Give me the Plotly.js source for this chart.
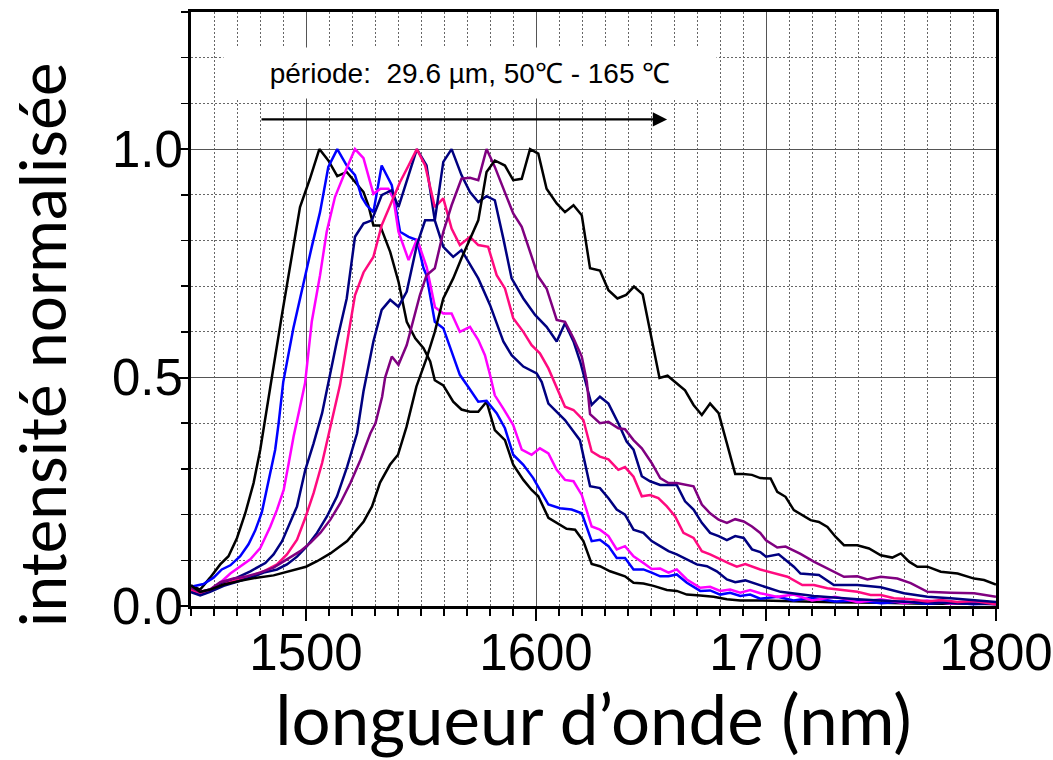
<!DOCTYPE html>
<html>
<head>
<meta charset="utf-8">
<script src="https://cdn.plot.ly/plotly-3.0.1.min.js"></script>
<style>html,body{margin:0;padding:0;background:#fff;}#chart{width:1053px;height:760px;}</style>
</head>
<body>
<div id="chart"></div>
<script>
// Curve 1 : black (peak ~1506 nm)
const xBlackA = [1450,1454,1458.3,1462.7,1466.3,1470,1473.6,1477.2,1480.1,1482.3,1484.5,1489.4,1493.8,1497.4,1501.7,1505.8,1509.7,1513.6,1517.7,1521.3,1525,1527.1,1529.3,1532.2,1536.6,1540.2,1543.8,1547.5,1551.1,1554,1556,1559.7,1564,1567.6,1571.3,1574.9,1578.5,1582.1,1586.5,1590.1,1594.5,1598.1,1601,1605.4,1609,1613.3,1617,1620.6,1624.2,1627.8,1632.2,1635.8,1638.7,1642.4,1646.7,1651.1,1656.9,1661.2,1665.6,1671.4,1677.2,1683,1688.8,1697.5,1710,1730,1750,1770,1800];
const yBlackA = [0.045,0.036,0.062,0.091,0.109,0.149,0.203,0.269,0.342,0.407,0.48,0.633,0.761,0.873,0.935,1.0,0.975,0.941,0.95,0.928,0.906,0.877,0.833,0.833,0.775,0.71,0.622,0.586,0.564,0.535,0.494,0.483,0.447,0.43,0.425,0.425,0.447,0.385,0.363,0.309,0.276,0.254,0.24,0.193,0.182,0.169,0.167,0.142,0.092,0.087,0.076,0.069,0.065,0.051,0.049,0.044,0.035,0.033,0.025,0.023,0.02,0.015,0.012,0.012,0.01,0.008,0.007,0.005,0.005];

// Curve 2 : blue (peak ~1513 nm)
const xBlue = [1450,1455.4,1459.8,1463.4,1467.1,1471.4,1475,1477.9,1480.8,1483.7,1486.6,1488.1,1490.1,1494.5,1498.8,1502.5,1506.1,1509.7,1513.6,1517.7,1521.3,1524.2,1526.4,1529.3,1532.9,1537.3,1540.9,1544.6,1548.2,1551.1,1552.4,1556,1559.7,1563.3,1566.9,1570.5,1574.9,1578.5,1582.9,1586.5,1590.1,1594.5,1598.8,1601.7,1605.4,1610.4,1615.5,1619.9,1624.2,1627.8,1631.5,1635.1,1638.7,1642.4,1646.7,1650.3,1654,1657.6,1661.2,1665.6,1671.4,1675.7,1680.1,1684.4,1688.8,1693.1,1697.5,1705,1712,1720,1730,1740,1750,1760,1770,1780,1790,1800];
const yBlue = [0.042,0.048,0.062,0.08,0.089,0.109,0.135,0.165,0.205,0.27,0.342,0.4,0.49,0.608,0.706,0.786,0.862,0.961,1.0,0.964,0.943,0.895,0.877,0.862,0.964,0.921,0.819,0.808,0.801,0.739,0.724,0.622,0.608,0.557,0.506,0.48,0.447,0.449,0.422,0.389,0.331,0.309,0.28,0.254,0.222,0.214,0.211,0.203,0.142,0.145,0.131,0.105,0.105,0.08,0.08,0.073,0.065,0.065,0.069,0.051,0.033,0.034,0.025,0.029,0.022,0.025,0.016,0.02,0.012,0.018,0.01,0.012,0.006,0.01,0.005,0.008,0.004,0.006];

// Curve 3 : magenta (peak ~1521 nm)
const xMagenta = [1450,1454,1458.3,1462.7,1467.1,1471.4,1475.8,1480.1,1484.5,1487.4,1490.3,1492.5,1494.6,1496.8,1499.6,1502.5,1506.1,1509,1512.6,1517,1521.3,1525,1527.1,1529.3,1532.4,1535.8,1538,1540.2,1544.6,1548.3,1552.5,1556.1,1559.7,1563.3,1566.9,1571.3,1574.9,1577.8,1580,1582.1,1585.8,1590.1,1593.8,1598.1,1601.7,1605.4,1609,1612.6,1616.3,1619.9,1624.2,1627.8,1631.5,1635.1,1638.7,1642.4,1646.7,1650.3,1654,1657.6,1661.2,1665.6,1671.4,1675.7,1680.1,1684.4,1688.8,1693.1,1697.5,1705,1712,1720,1730,1740,1750,1760,1770,1780,1790,1800];
const yMagenta = [0.036,0.031,0.036,0.051,0.071,0.087,0.102,0.127,0.174,0.211,0.254,0.313,0.371,0.422,0.488,0.622,0.724,0.819,0.895,0.95,1.0,0.98,0.943,0.902,0.913,0.913,0.892,0.819,0.757,0.803,0.741,0.654,0.64,0.64,0.6,0.611,0.582,0.549,0.506,0.461,0.432,0.396,0.342,0.331,0.345,0.334,0.298,0.276,0.273,0.243,0.174,0.167,0.153,0.124,0.131,0.109,0.094,0.081,0.082,0.073,0.08,0.058,0.04,0.042,0.033,0.036,0.029,0.035,0.028,0.02,0.025,0.012,0.02,0.008,0.015,0.006,0.012,0.005,0.008,0.004];

// Curve 4 : navy (peak ~1548 nm)
const xNavyB = [1450,1454,1458.3,1464.2,1470,1475.8,1482.3,1485.9,1489.6,1493.2,1496.1,1499.7,1503.3,1507,1509.1,1513.4,1517.7,1521.3,1525,1528.6,1532.9,1537.3,1540.2,1543.8,1548.2,1552.4,1556,1559.7,1564,1567.6,1571.3,1574.9,1580,1585.8,1589.4,1594.5,1600.3,1602.5,1605.4,1609,1612.6,1616.3,1619.1,1623.5,1627.8,1631.5,1635.1,1638.7,1642.4,1646.7,1650.3,1654,1657.6,1661.2,1665.6,1669.9,1674.3,1678.6,1683,1686.6,1691,1697.5,1706.3,1720.8,1739.7,1760,1780.3,1800];
const yNavyB = [0.035,0.025,0.033,0.051,0.062,0.076,0.094,0.113,0.142,0.182,0.218,0.298,0.356,0.422,0.475,0.579,0.673,0.808,0.837,0.844,0.899,0.91,0.873,0.928,1.0,0.964,0.844,0.786,0.764,0.779,0.746,0.717,0.659,0.579,0.549,0.524,0.509,0.49,0.443,0.425,0.407,0.382,0.363,0.262,0.258,0.236,0.211,0.2,0.167,0.16,0.142,0.131,0.12,0.113,0.102,0.091,0.087,0.076,0.058,0.052,0.056,0.045,0.031,0.022,0.015,0.0095,0.006,0.004];

// Curve 5 : deep pink (peak ~1548 nm)
const xPink = [1450,1454,1458.3,1464.2,1470,1475.8,1481.6,1487.4,1491.7,1496.1,1499.7,1503.3,1507,1509.9,1512.8,1514.8,1518.4,1521.3,1525,1529.3,1532.9,1537.3,1540.9,1544.6,1548.2,1551.8,1556,1559.7,1563.3,1566.9,1571.3,1574.9,1579.2,1582.9,1586.5,1590.1,1594.5,1598.1,1601.7,1605.4,1609,1612.6,1616.3,1620.6,1624.2,1627.8,1631.5,1635.8,1638.7,1642.4,1646,1649.6,1653.2,1656.9,1660.5,1664.1,1668.5,1672.1,1675.7,1680.1,1683.7,1687.3,1691,1697.5,1704.9,1709.3,1715.8,1720.8,1726.7,1733.9,1739.7,1745.5,1749.9,1755.6,1762.9,1770.2,1776,1783.3,1790.5,1800];
const yPink = [0.035,0.028,0.033,0.047,0.057,0.065,0.076,0.091,0.113,0.145,0.193,0.247,0.313,0.378,0.443,0.484,0.593,0.68,0.73,0.764,0.833,0.884,0.928,0.964,1.0,0.964,0.873,0.892,0.826,0.79,0.808,0.79,0.786,0.724,0.695,0.63,0.6,0.571,0.553,0.52,0.478,0.436,0.429,0.407,0.338,0.327,0.321,0.298,0.304,0.283,0.24,0.243,0.236,0.218,0.196,0.16,0.149,0.12,0.113,0.102,0.094,0.086,0.092,0.08,0.071,0.064,0.046,0.046,0.039,0.035,0.031,0.024,0.024,0.017,0.015,0.01,0.013,0.009,0.011,0.004];

// Curve 6 : navy (peak ~1564 nm)
const xNavyC = [1450,1454,1458.3,1464.2,1470,1475.8,1481.6,1487.4,1491.7,1496.1,1500.4,1504.8,1509.1,1513.5,1517.9,1522.2,1525,1529.3,1532.9,1536.6,1540.2,1543.8,1548.2,1551.8,1556,1559.7,1563.3,1567.6,1571.3,1574.9,1578.5,1582.1,1585.8,1589.4,1594.5,1599.6,1604.6,1609,1612.6,1616.3,1619.2,1621.4,1624.2,1627.8,1631.5,1635.8,1639.4,1642.4,1646,1649.6,1654,1657.6,1661.2,1664.8,1668.5,1672.1,1675.7,1679.4,1683,1686.6,1690.3,1693.9,1697.5,1700,1705.5,1712.1,1715,1723,1729.5,1739.7,1749.9,1760,1770.2,1780.3,1800];
const yNavyC = [0.03,0.023,0.031,0.044,0.053,0.062,0.073,0.08,0.091,0.108,0.131,0.16,0.196,0.24,0.305,0.378,0.47,0.579,0.648,0.67,0.655,0.688,0.79,0.844,0.844,0.972,1.0,0.943,0.906,0.884,0.897,0.888,0.804,0.717,0.673,0.637,0.611,0.579,0.619,0.579,0.535,0.491,0.44,0.458,0.443,0.4,0.36,0.342,0.284,0.273,0.265,0.265,0.265,0.229,0.211,0.182,0.16,0.153,0.144,0.153,0.149,0.124,0.118,0.108,0.113,0.086,0.071,0.068,0.046,0.046,0.041,0.028,0.02,0.017,0.009];

// Curve 7 : purple (peak ~1579 nm)
const xPurple = [1450,1454,1458.3,1462.7,1468.5,1474.3,1480.1,1485.9,1491.7,1497.5,1501.9,1506.2,1510.6,1514.9,1519.3,1523.7,1528,1530.2,1533.1,1534.4,1537.3,1540.2,1543.8,1548.2,1549.5,1552.4,1556,1559.7,1563.3,1567.6,1571.3,1574.9,1578.5,1582.1,1585.8,1590.1,1593.8,1597.4,1601,1604.6,1609,1612.6,1616.3,1619.9,1622.1,1623.5,1627.8,1631.5,1635.8,1638.7,1642.4,1646,1650.3,1654,1657.6,1661.2,1664.8,1668.5,1672.1,1675.7,1679.4,1683,1686.6,1690.3,1693.9,1697.5,1700,1704.9,1708.5,1715,1720.8,1726.7,1733.9,1739.7,1744.1,1749.9,1757.1,1762.9,1770.2,1780.3,1790.5,1800];
const yPurple = [0.04,0.03,0.036,0.052,0.06,0.065,0.073,0.084,0.102,0.12,0.138,0.16,0.189,0.225,0.269,0.32,0.378,0.4,0.458,0.5,0.546,0.528,0.571,0.651,0.68,0.724,0.739,0.819,0.877,0.935,0.937,0.932,1.0,0.961,0.913,0.859,0.83,0.775,0.721,0.695,0.626,0.622,0.586,0.546,0.491,0.42,0.4,0.403,0.389,0.387,0.363,0.345,0.313,0.28,0.269,0.269,0.265,0.262,0.222,0.203,0.189,0.182,0.19,0.185,0.174,0.16,0.144,0.128,0.13,0.114,0.097,0.082,0.064,0.065,0.058,0.064,0.06,0.05,0.031,0.029,0.028,0.02];

// Curve 8 : black (peak ~1598 nm)
const xBlackD = [1450,1454,1458.3,1464.2,1471.4,1478.6,1485.9,1493.2,1500,1504.8,1510.6,1517.9,1525.1,1528.7,1532.2,1536.5,1540,1543.7,1548,1552.4,1556,1559.7,1564,1567.6,1571.3,1574.9,1578.5,1582.1,1586.5,1590.1,1593.8,1597.4,1601,1604.6,1609,1612.6,1616.3,1619.9,1623.5,1627.8,1631.5,1635.4,1639.2,1642.6,1646.4,1649.6,1653.7,1657.2,1661.2,1664.8,1668.5,1672.1,1675.7,1679.4,1683,1686.6,1690.2,1693.9,1697.5,1702,1704.9,1708.5,1712.1,1715.8,1719.4,1723,1726.7,1730.3,1733.9,1739.7,1744.8,1749.9,1754.9,1758.6,1762.2,1765.8,1770.2,1776,1783.3,1790.5,1794.8,1800];
const yBlackD = [0.045,0.031,0.036,0.047,0.055,0.062,0.067,0.076,0.086,0.098,0.115,0.142,0.185,0.218,0.27,0.309,0.331,0.392,0.48,0.542,0.6,0.673,0.717,0.761,0.804,0.844,0.95,0.975,0.964,0.932,0.935,1.0,0.99,0.913,0.881,0.862,0.877,0.855,0.739,0.734,0.691,0.673,0.681,0.699,0.682,0.6,0.499,0.504,0.487,0.472,0.44,0.418,0.443,0.422,0.356,0.289,0.289,0.287,0.28,0.279,0.25,0.239,0.21,0.199,0.188,0.184,0.173,0.151,0.133,0.133,0.126,0.111,0.106,0.115,0.097,0.086,0.086,0.075,0.071,0.06,0.057,0.047];

const seriesX = [xBlackA, xBlue, xMagenta, xNavyB, xPink, xNavyC, xPurple, xBlackD];
const seriesY = [yBlackA, yBlue, yMagenta, yNavyB, yPink, yNavyC, yPurple, yBlackD];
const seriesNames = ['black 1', 'blue', 'magenta', 'navy 1', 'pink', 'navy 2', 'purple', 'black 2'];
const seriesColors = ['#000000', '#0000ff', '#ff00ff', '#000080', '#ff0a7f', '#000080', '#800080', '#000000'];

const annotText = 'période:  29.6 µm, 50℃ - 165 ℃';
const xTitle = 'longueur d’onde (nm)';
const yTitle = 'intensité normalisée';

const traces = seriesX.map((xs, i) => ({
  type: 'scatter', mode: 'lines', name: seriesNames[i],
  x: xs, y: seriesY[i],
  line: {color: seriesColors[i], width: 2.5},
  hoverinfo: 'skip'
}));

const tickFont = {family: '"Liberation Sans", Arial, sans-serif', size: 51, color: '#000'};

const layout = {
  width: 1053, height: 760,
  margin: {l: 191, r: 57, t: 12, b: 154},
  paper_bgcolor: '#fff', plot_bgcolor: '#fff',
  showlegend: false,
  xaxis: {
    range: [1450, 1800], tick0: 1500, dtick: 100,
    ticks: 'outside', ticklen: 12, tickwidth: 2, tickcolor: '#000',
    ticklabeloverflow: 'allow', ticklabelstandoff: -12,
    showline: true, linewidth: 3, linecolor: '#000', mirror: true,
    showgrid: true, gridcolor: '#555', gridwidth: 1, zeroline: false,
    tickfont: tickFont,
    minor: {dtick: 10, ticks: 'outside', ticklen: 7, tickwidth: 1.5, tickcolor: '#000',
            showgrid: true, gridcolor: '#666', gridwidth: 1, griddash: '2px,2px'},
    title: {text: xTitle, font: {family: 'Lato, "Noto Sans", sans-serif', size: 69, color: '#000'}, standoff: 6}
  },
  yaxis: {
    range: [0, 1.3], tick0: 0, dtick: 0.5, tickformat: '.1f',
    ticks: 'outside', ticklen: 11, tickwidth: 2, tickcolor: '#000',
    ticklabeloverflow: 'allow', ticklabelstandoff: -16,
    showline: true, linewidth: 3, linecolor: '#000', mirror: true,
    showgrid: true, gridcolor: '#555', gridwidth: 1, zeroline: false,
    tickfont: tickFont,
    minor: {dtick: 0.1, ticks: 'outside', ticklen: 7, tickwidth: 1.5, tickcolor: '#000',
            showgrid: true, gridcolor: '#666', gridwidth: 1, griddash: '2px,2px'}
  },
  annotations: [
    {xref: 'paper', yref: 'paper', x: -0.186, y: 0.44, text: yTitle, textangle: -90, showarrow: false,
     font: {family: 'Lato, "Noto Sans", sans-serif', size: 64, color: '#000'}, xanchor: 'center', yanchor: 'middle'},
    {xref: 'x', yref: 'y', x: 1571.5, y: 1.166, text: annotText, showarrow: false,
     font: {family: '"Liberation Sans", Arial, sans-serif', size: 28, color: '#000'},
     bgcolor: '#fff', width: 488, height: 46, borderpad: 2, align: 'center', xanchor: 'center', yanchor: 'middle'},
    {xref: 'x', yref: 'y', axref: 'x', ayref: 'y', x: 1657, y: 1.065, ax: 1480, ay: 1.065,
     text: '', showarrow: true, arrowhead: 2, arrowsize: 1.3, arrowwidth: 2.2, arrowcolor: '#000'}
  ]
};

Plotly.newPlot('chart', traces, layout, {displayModeBar: false, staticPlot: true});
</script>
</body>
</html>
